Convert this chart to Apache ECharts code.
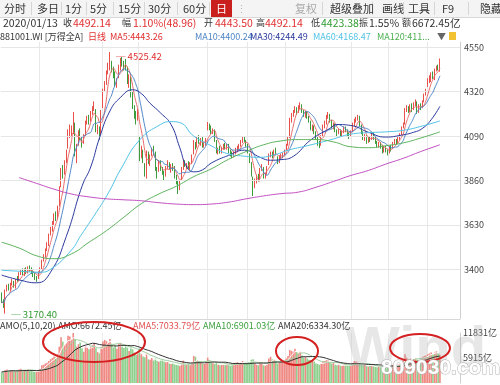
<!DOCTYPE html>
<html><head><meta charset="utf-8">
<script src="https://cdn.jsdelivr.net/npm/echarts@6/dist/echarts.min.js"></script>
<style>html,body{margin:0;padding:0;background:#fff}#c{width:500px;height:385px}</style>
</head><body><div id="c"></div>
<script>
// [open, close, low, high] per trading day, 2019-01-02 .. 2020-01-13
const candles = [
[3265,3235,3225,3280],[3230,3215,3200,3245],[3200,3290,3170.40,3295],[3300,3305,3285,3320],[3310,3300,3290,3325],
[3295,3320,3285,3330],[3325,3335,3315,3350],[3330,3315,3305,3340],[3310,3345,3300,3350],[3350,3345,3335,3365],
[3345,3375,3340,3385],[3380,3390,3370,3400],[3395,3380,3370,3405],[3378,3395,3365,3405],[3400,3385,3375,3410],
[3385,3405,3378,3415],[3408,3400,3388,3420],[3400,3385,3375,3410],[3388,3370,3360,3395],[3372,3355,3345,3380],
[3350,3350,3335,3365],[3355,3385,3350,3390],
[3390,3400,3380,3410],[3405,3445,3400,3450],[3448,3470,3440,3478],[3468,3500,3460,3508],[3505,3530,3495,3540],
[3525,3580,3520,3585],[3585,3610,3575,3620],[3608,3640,3595,3650],[3645,3680,3630,3690],[3685,3665,3650,3700],
[3670,3720,3660,3730],[3730,3820,3725,3830],[3830,3910,3825,3925],[3910,3900,3870,3940],[3895,3960,3890,3965],
[3970,4010,3950,4020],[4030,4110,4025,4125],[4115,4120,4080,4150],[4110,4130,4090,4145],[4135,4170,4100,4215],
[4140,3990,3985,4160],[3980,4040,3950,4050],[4045,4110,4040,4120],[4115,4080,4070,4130],[4075,4060,4030,4090],
[4060,4090,4050,4100],[4095,4160,4090,4170],[4165,4180,4150,4195],[4185,4170,4150,4200],[4170,4210,4165,4220],
[4215,4230,4200,4245],[4235,4250,4220,4270],[4220,4120,4110,4230],[4130,4130,4100,4150],[4120,4080,4070,4140],
[4100,4220,4095,4225],
[4240,4330,4235,4335],[4335,4360,4320,4375],[4360,4420,4355,4430],[4425,4460,4410,4470],[4470,4470,4430,4525.42],
[4460,4440,4420,4480],[4435,4420,4390,4450],[4410,4360,4345,4425],[4355,4380,4340,4390],[4400,4440,4390,4460],
[4440,4480,4430,4495],[4480,4470,4450,4500],[4465,4460,4430,4480],[4460,4450,4430,4490],[4440,4370,4360,4450],
[4365,4400,4340,4410],[4390,4300,4290,4400],[4300,4240,4230,4320],[4230,4200,4180,4250],[4200,4180,4150,4220],
[4185,4220,4170,4230],
[4080,3980,3960,4090],[4000,4010,3975,4040],[4005,3960,3950,4020],[3940,3900,3880,3950],[3890,4010,3870,4015],
[3990,3960,3945,4010],[3940,3990,3935,3995],[4000,4020,3985,4030],[4025,4000,3990,4040],[4000,3920,3910,4010],
[3915,3900,3870,3930],[3910,3960,3905,3965],[3955,3920,3910,3965],[3915,3910,3890,3930],[3900,3880,3860,3910],
[3885,3930,3880,3935],[3935,3950,3920,3965],[3945,3920,3915,3955],[3915,3935,3900,3945],[3940,3920,3910,3950],
[3925,3880,3870,3935],[3880,3850,3840,3890],[3850,3830,3790,3860],[3835,3850,3810,3860],[3870,3920,3865,3930],
[3925,3960,3915,3970],[3955,3940,3930,3965],[3940,3945,3920,3950],[3950,3930,3920,3960],[3925,3950,3915,3955],
[3950,3990,3945,3995],[4000,4050,3995,4070],[4045,4040,4020,4060],[4040,4080,4030,4090],[4080,4060,4050,4095],
[4060,4070,4040,4080],[4070,4040,4030,4085],[4045,4050,4030,4060],[4055,4070,4040,4080],
[4130,4150,4120,4163],[4150,4140,4120,4155],[4135,4110,4100,4145],[4110,4120,4100,4130],[4120,4070,4060,4125],
[4065,4010,4000,4070],[4010,4020,3995,4030],[4025,4010,4000,4040],[4005,4030,4000,4035],[4035,4040,4020,4050],
[4040,4030,4020,4055],[4030,4045,4020,4050],[4040,4010,4000,4050],[4010,4000,3985,4020],[4000,3990,3975,4010],
[3990,4000,3980,4010],[4005,4020,3995,4030],[4025,4030,4010,4040],[4030,4040,4020,4050],[4045,4060,4035,4070],
[4060,4080,4055,4090],[4080,4070,4060,4085],[4065,4040,4035,4070],
[4040,4020,4000,4050],[3990,3970,3950,4000],[3950,3890,3880,3955],[3870,3830,3780,3880],[3840,3850,3820,3870],
[3860,3880,3845,3890],[3880,3870,3855,3895],[3860,3920,3855,3925],[3920,3930,3910,3945],[3925,3880,3870,3930],
[3885,3890,3870,3900],[3895,3930,3890,3935],[3945,3990,3940,4000],[3990,4000,3980,4010],[4000,3990,3975,4010],
[3995,4010,3985,4020],[4010,4000,3990,4030],[3970,3960,3945,3985],[3960,3980,3950,3990],[3980,3990,3970,4000],
[3985,3995,3975,4005],[4000,4010,3990,4020],
[4020,4040,4015,4050],[4045,4080,4040,4090],[4085,4180,4080,4185],[4175,4200,4160,4210],[4200,4210,4190,4225],
[4220,4230,4210,4245],[4230,4220,4200,4240],[4215,4240,4210,4250],[4240,4250,4230,4265],[4245,4220,4210,4255],
[4215,4200,4190,4225],[4200,4210,4185,4220],[4210,4190,4180,4220],[4185,4170,4160,4195],[4165,4130,4120,4170],
[4130,4140,4115,4150],[4140,4110,4100,4145],[4110,4080,4070,4115],[4080,4060,4040,4090],[4055,4040,4028,4065],
[4050,4090,4040,4095],[4090,4140,4085,4150],[4140,4160,4130,4170],[4160,4190,4150,4200],[4195,4200,4180,4215],
[4195,4170,4160,4205],[4165,4140,4130,4175],[4140,4150,4125,4160],[4150,4120,4110,4155],[4115,4110,4090,4125],
[4110,4120,4100,4130],[4120,4100,4085,4125],[4100,4110,4090,4120],[4115,4130,4105,4140],[4130,4120,4110,4140],
[4120,4100,4090,4125],[4100,4090,4075,4110],[4090,4110,4085,4120],
[4115,4150,4110,4160],[4150,4170,4140,4180],[4170,4180,4160,4190],[4180,4190,4170,4200],[4185,4150,4140,4195],
[4140,4110,4100,4150],[4110,4080,4070,4115],[4080,4090,4065,4100],[4085,4060,4050,4095],[4060,4080,4055,4090],
[4080,4070,4060,4090],[4075,4100,4070,4110],[4100,4080,4070,4110],[4080,4060,4050,4090],[4055,4040,4030,4065],
[4040,4050,4030,4060],[4050,4040,4025,4060],[4035,4010,4000,4045],[4010,4030,4005,4040],[4030,4020,4005,4040],
[4015,4000,3990,4025],
[4005,4030,4000,4040],[4030,4025,4010,4045],[4030,4055,4025,4060],[4055,4065,4045,4075],[4065,4055,4045,4075],
[4060,4075,4050,4085],[4075,4095,4070,4105],[4100,4130,4095,4140],[4135,4150,4130,4160],[4155,4230,4150,4235],
[4230,4235,4215,4250],[4235,4220,4210,4245],[4225,4245,4215,4255],[4245,4225,4215,4260],[4230,4255,4225,4265],
[4255,4265,4245,4280],[4260,4215,4205,4270],[4215,4245,4210,4255],[4245,4235,4225,4260],[4240,4265,4235,4275],
[4270,4300,4265,4310],[4305,4330,4300,4335],
[4350,4385,4345,4390],[4385,4390,4365,4405],[4380,4410,4370,4420],[4410,4400,4385,4425],[4390,4430,4380,4440],
[4440,4440,4425,4455],[4450,4444,4430,4460],[4443.50,4492.14,4423.38,4492.14]
];
// turnover (亿)
const volumes = [
2600,2400,3100,3200,2900,3000,3100,2700,2900,2800,3200,3400,3000,2900,3100,3300,3100,2800,2700,2600,2700,3000,
3300,4200,4300,4600,4800,5200,5600,5900,6300,6100,6800,8600,10800,9800,9000,
9400,11200,11000,10300,11831,10500,8600,9200,9600,8200,7400,8800,8400,8000,8600,8900,9500,8200,7300,7000,8500,
9800,10200,9900,9600,10400,9300,8400,8900,8100,9200,9500,8600,8300,8700,8400,7600,8600,8000,7200,6600,6800,
8200,6800,6300,6100,7000,5600,5500,5900,5300,5800,5200,5000,5400,5600,5100,4900,5000,4600,4500,4700,
4400,4300,4200,4000,4600,5300,4500,4300,4600,4200,4900,6400,6200,5400,5100,4900,4600,4500,4700,
6000,5300,4800,4700,4500,4800,4300,4200,4300,4500,4400,4600,4200,4100,4200,4600,4800,4900,4600,4800,5200,5000,4700,
4800,4700,5500,5600,4600,4300,4200,4900,4800,4200,4100,4400,5800,6200,5600,5500,5300,4600,4800,4900,5000,5100,
5800,6400,7800,7600,7400,8100,7300,7000,7500,6500,6000,6200,5800,5500,5400,5200,5100,4600,4500,4300,
4600,5100,5200,5400,5300,4800,4600,4700,4300,4200,4400,4100,4000,4300,4500,4200,4000,4100,
4700,5200,5100,5000,4900,4400,4200,4300,4000,3900,4100,4200,4000,3800,3700,3900,3800,3600,3700,3800,3600,
3800,3900,4300,4200,4100,4300,4500,5200,5400,6800,6000,5600,5900,5400,5700,5900,5600,5300,5900,6100,6400,6500,
6800,7000,7200,6800,7200,7500,7000,6672.45
];
// moving averages: [dayIndex, value]
const ma30 = [[0,3370],[10,3345],[20,3330],[28,3385],[37,3570],[46,3830],[51,3930],[56,4080],[62,4220],[68,4290],[75,4330],[80,4310],[85,4260],[91,4210],[97,4150],[102,4030],[106,3930],[110,3905],[115,3915],[120,3950],[130,3990],[139,4017],[148,3980],[154,3965],[160,3968],[167,3985],[177,4070],[188,4130],[192,4150],[200,4145],[210,4110],[220,4085],[229,4095],[236,4110],[241,4130],[246,4175],[251,4244.49]];
const ma60 = [[0,3395],[10,3390],[22,3385],[28,3400],[40,3500],[45,3570],[56,3720],[62,3810],[68,3915],[79,4070],[91,4150],[97,4165],[102,4160],[110,4090],[120,4040],[129,4000],[140,3985],[147,3980],[157,3995],[164,4017],[175,4040],[188,4070],[200,4100],[210,4108],[220,4112],[230,4120],[240,4140],[251,4168.47]];
const ma120 = [[0,3540],[10,3510],[20,3470],[30,3455],[40,3480],[50,3540],[60,3600],[70,3670],[80,3740],[90,3790],[100,3830],[110,3880],[120,3920],[130,3970],[140,4010],[150,4045],[160,4065],[170,4072],[180,4072],[190,4060],[200,4035],[210,4030],[220,4040],[230,4055],[240,4080],[251,4112]];
const ma250 = [[10,3875],[20,3845],[30,3815],[40,3790],[50,3775],[60,3765],[70,3760],[80,3755],[90,3745],[100,3738],[110,3735],[120,3738],[130,3748],[140,3765],[150,3780],[160,3792],[170,3800],[180,3825],[190,3855],[200,3886],[210,3912],[220,3945],[230,3975],[240,4010],[251,4045]];
const priceTicks = [3400,3630,3860,4090,4320,4550];
const volTicks = [5915.5,11831];
const volTickLabels = ['5915亿','11831亿'];
const monthGridIdx = [22,58,79,118,141,163,201,222,244];
const emptyTail = 11;
const categories = candles.map((d,i)=>'d'+i).concat(Array.from({length:emptyTail},(d,i)=>'e'+i));

const UP='#e8504a', DOWN='#3c9c3c';
function ma(arr, n){ return arr.map((v,i)=>{ const s=Math.max(0,i-n+1); let t=0; for(let k=s;k<=i;k++) t+=arr[k]; return [i, +(t/(i-s+1)).toFixed(2)]; }); }
const closes = candles.map(d=>d[1]);
const FONT='"Noto Sans CJK SC","Microsoft YaHei",sans-serif';

const chart = echarts.init(document.getElementById('c'), null, {renderer:'canvas', width:500, height:385});

function txt(x,y,t,color,size){ return {type:'text', x:x, y:y, z:100, style:{text:t, fill:color||'#333', font:(size||11)+'px '+FONT, textVerticalAlign:'middle'}}; }
const g = [];
// toolbar
g.push({type:'rect', shape:{x:0,y:0,width:500,height:17}, style:{fill:'#f4f4f4'}, z:90});
g.push({type:'line', shape:{x1:0,y1:17.5,x2:500,y2:17.5}, style:{stroke:'#d8d8d8',lineWidth:1}, z:90});
g.push({type:'rect', shape:{x:211,y:0,width:21,height:17}, style:{fill:'#c9201d'}, z:95});
[31,61,86,113,144,177,209,322,372,403,434,468].forEach(x=>g.push({type:'line', shape:{x1:x+0.5,y1:2,x2:x+0.5,y2:15}, style:{stroke:'#d6d6d6',lineWidth:1}, z:95}));
[['分时',4],['多日',37],['1分',65],['5分',90],['15分',118],['30分',148],['60分',183],['超级叠加',330],['画线',382],['工具',408],['F9',442],['隐藏',480]].forEach(a=>g.push(txt(a[1],9,a[0],'#333',11)));
g.push(txt(216,9,'日','#fff',11));
g.push(txt(236,9,'⋮','#bbb',11));
g.push(txt(295,9,'复权','#aaa',11));
// info row: labels (CJK) and numbers
[['收',63],['幅',122],['开',204],['高',256],['低',311],['振',359],['额',402]].forEach(a=>g.push(txt(a[1],23,a[0],'#333',9)));
[['2020/01/13',3,'#333'],['4492.14',73,'#e03030'],['1.10%(48.96)',133,'#e03030'],['4443.50',215,'#e03030'],
 ['4492.14',265,'#e03030'],['4423.38',321,'#2f9a2f'],['1.55%',369,'#333'],['6672.45亿',412,'#333']].forEach(a=>g.push(txt(a[1],23,a[0],a[2],10.5)));
// MA row
[['881001.WI [万得全A]',0,'#333'],['日线',88,'#e03030'],['MA5:4443.26',110,'#e03030'],['MA10:4400.24',195,'#4f86c6'],['MA30:4244.49',250,'#2b3a9e'],['MA60:4168.47',313,'#52c3e6'],['MA120:411...',377,'#4caf50']].forEach(a=>g.push(txt(a[1],37,a[0],a[2],9)));
g.push(txt(437,37,'▼','#666',9));
g.push({type:'rect', shape:{x:449,y:32,width:7,height:8}, style:{fill:'#f1c232'}, z:100});
// volume label row
g.push({type:'line', shape:{x1:0,y1:319.5,x2:460,y2:319.5}, style:{stroke:'#d8d8d8',lineWidth:1}, z:90});
[['AMO(5,10,20)',0,'#333'],['AMO:6672.45亿',58,'#333'],['AMA5:7033.79亿',133,'#e05050'],['AMA10:6901.03亿',203,'#3aa03a'],['AMA20:6334.30亿',278,'#333']].forEach(a=>g.push(txt(a[1],326,a[0],a[2],9)));
// watermark
g.push({type:'text', x:345, y:322, z:80, style:{text:'Wind', fill:'rgba(170,170,170,0.28)', font:'bold 58px "Liberation Sans",Arial,sans-serif'}});
g.push({type:'text', x:381, y:358, z:120, style:{text:'809030.com', fill:'#ffffff', stroke:'#b0b0b0', lineWidth:1, font:'bold 21px "Liberation Sans",Arial,sans-serif'}});
// ellipses
[[94,342,51,20],[297,351,21,14],[420,348,30,14]].forEach(e=>g.push({type:'ellipse', shape:{cx:e[0],cy:e[1],rx:e[2],ry:e[3]}, style:{fill:null, stroke:'#d42020', lineWidth:2}, z:110}));

const lineS = (name,data,color,xi)=>({name, type:'line', data, xAxisIndex:xi||0, yAxisIndex:xi||0, smooth:true, showSymbol:false, symbol:'none', connectNulls:true, lineStyle:{width:1,color}, silent:true, z:5});

const option = {
  animation:false,
  backgroundColor:'#fff',
  grid:[{left:0.8,right:40,top:42,bottom:66},{left:0.8,right:40,top:333,bottom:2}],
  xAxis:[
    {type:'category', data:categories, gridIndex:0, boundaryGap:true, axisLine:{show:false}, axisTick:{show:false}, axisLabel:{show:false},
     splitLine:{show:true, interval:(idx)=>monthGridIdx.indexOf(idx)>=0, lineStyle:{color:'#e8e8e8',width:1}}},
    {type:'category', data:categories, gridIndex:1, boundaryGap:true, axisLine:{show:false}, axisTick:{show:false}, axisLabel:{show:false},
     splitLine:{show:true, interval:(idx)=>monthGridIdx.indexOf(idx)>=0, lineStyle:{color:'#ececec',width:1}}}
  ],
  yAxis:[
    {type:'value', gridIndex:0, position:'right', min:3142.5, max:4577.5, axisLine:{show:true,lineStyle:{color:'#cfcfcf'}}, axisTick:{show:false}, axisLabel:{show:false}, splitLine:{show:false}},
    {type:'value', gridIndex:1, position:'right', min:0, max:11831, axisLine:{show:true,lineStyle:{color:'#cfcfcf'}}, axisTick:{show:false}, axisLabel:{show:false}, splitLine:{show:false}}
  ],
  graphic:g,
  series:[
    {type:'candlestick', name:'K', data:candles, xAxisIndex:0, yAxisIndex:0, barWidth:1.3,
     itemStyle:{color:UP, color0:DOWN, borderColor:UP, borderColor0:DOWN, borderWidth:1}, z:3,
     markLine:{silent:true, symbol:['none','none'], animation:false,
       lineStyle:{color:'#e6e6e6', type:'solid', width:1},
       label:{show:true, position:'end', distance:4, color:'#444', fontSize:9, fontFamily:FONT, formatter:(p)=>String(p.value)},
       data:priceTicks.map(v=>({yAxis:v}))},
     markPoint:{silent:true, symbol:'circle', symbolSize:0.1, animation:false,
       data:[
         {coord:[62,4525.42], label:{show:true, position:'right', offset:[1,4], formatter:'\u2500 4525.42', color:'#e03030', fontSize:9.5, fontFamily:FONT}},
         {coord:[2,3170.40], label:{show:true, position:'right', offset:[1,1], formatter:'\u2500 3170.40', color:'#2f9a2f', fontSize:9.5, fontFamily:FONT}}
       ]}
    },
    lineS('MA5', ma(closes,5), '#ea6a6a'),
    lineS('MA10', ma(closes,10), '#4f86c6'),
    lineS('MA30', ma30, '#2b3a9e'),
    lineS('MA60', ma60, '#52c3e6'),
    lineS('MA120', ma120, '#5db35d'),
    lineS('MA250', ma250, '#c24fc2'),
    {type:'bar', name:'AMO', xAxisIndex:1, yAxisIndex:1, barWidth:1.6,
     data:volumes.map((v,i)=>({value:v, itemStyle:{color: candles[i][1]>=candles[i][0] ? '#ef8a84' : '#8fd08f'}})),
     markLine:{silent:true, symbol:['none','none'], animation:false,
       lineStyle:{color:'rgba(0,0,0,0)', width:0},
       label:{show:true, position:'end', distance:3, color:'#444', fontSize:9, fontFamily:FONT},
       data:volTicks.map((v,i)=>({yAxis:v, label:{formatter:volTickLabels[i]}}))}
    },
    Object.assign(lineS('AMA5', ma(volumes,5), '#ffffff',1), {smooth:false}),
    Object.assign(lineS('AMA10', ma(volumes,10), '#9fcf9f',1), {smooth:false}),
    Object.assign(lineS('AMA20', ma(volumes,20), '#333333',1), {smooth:false})
  ]
};
chart.setOption(option);
</script></body></html>
